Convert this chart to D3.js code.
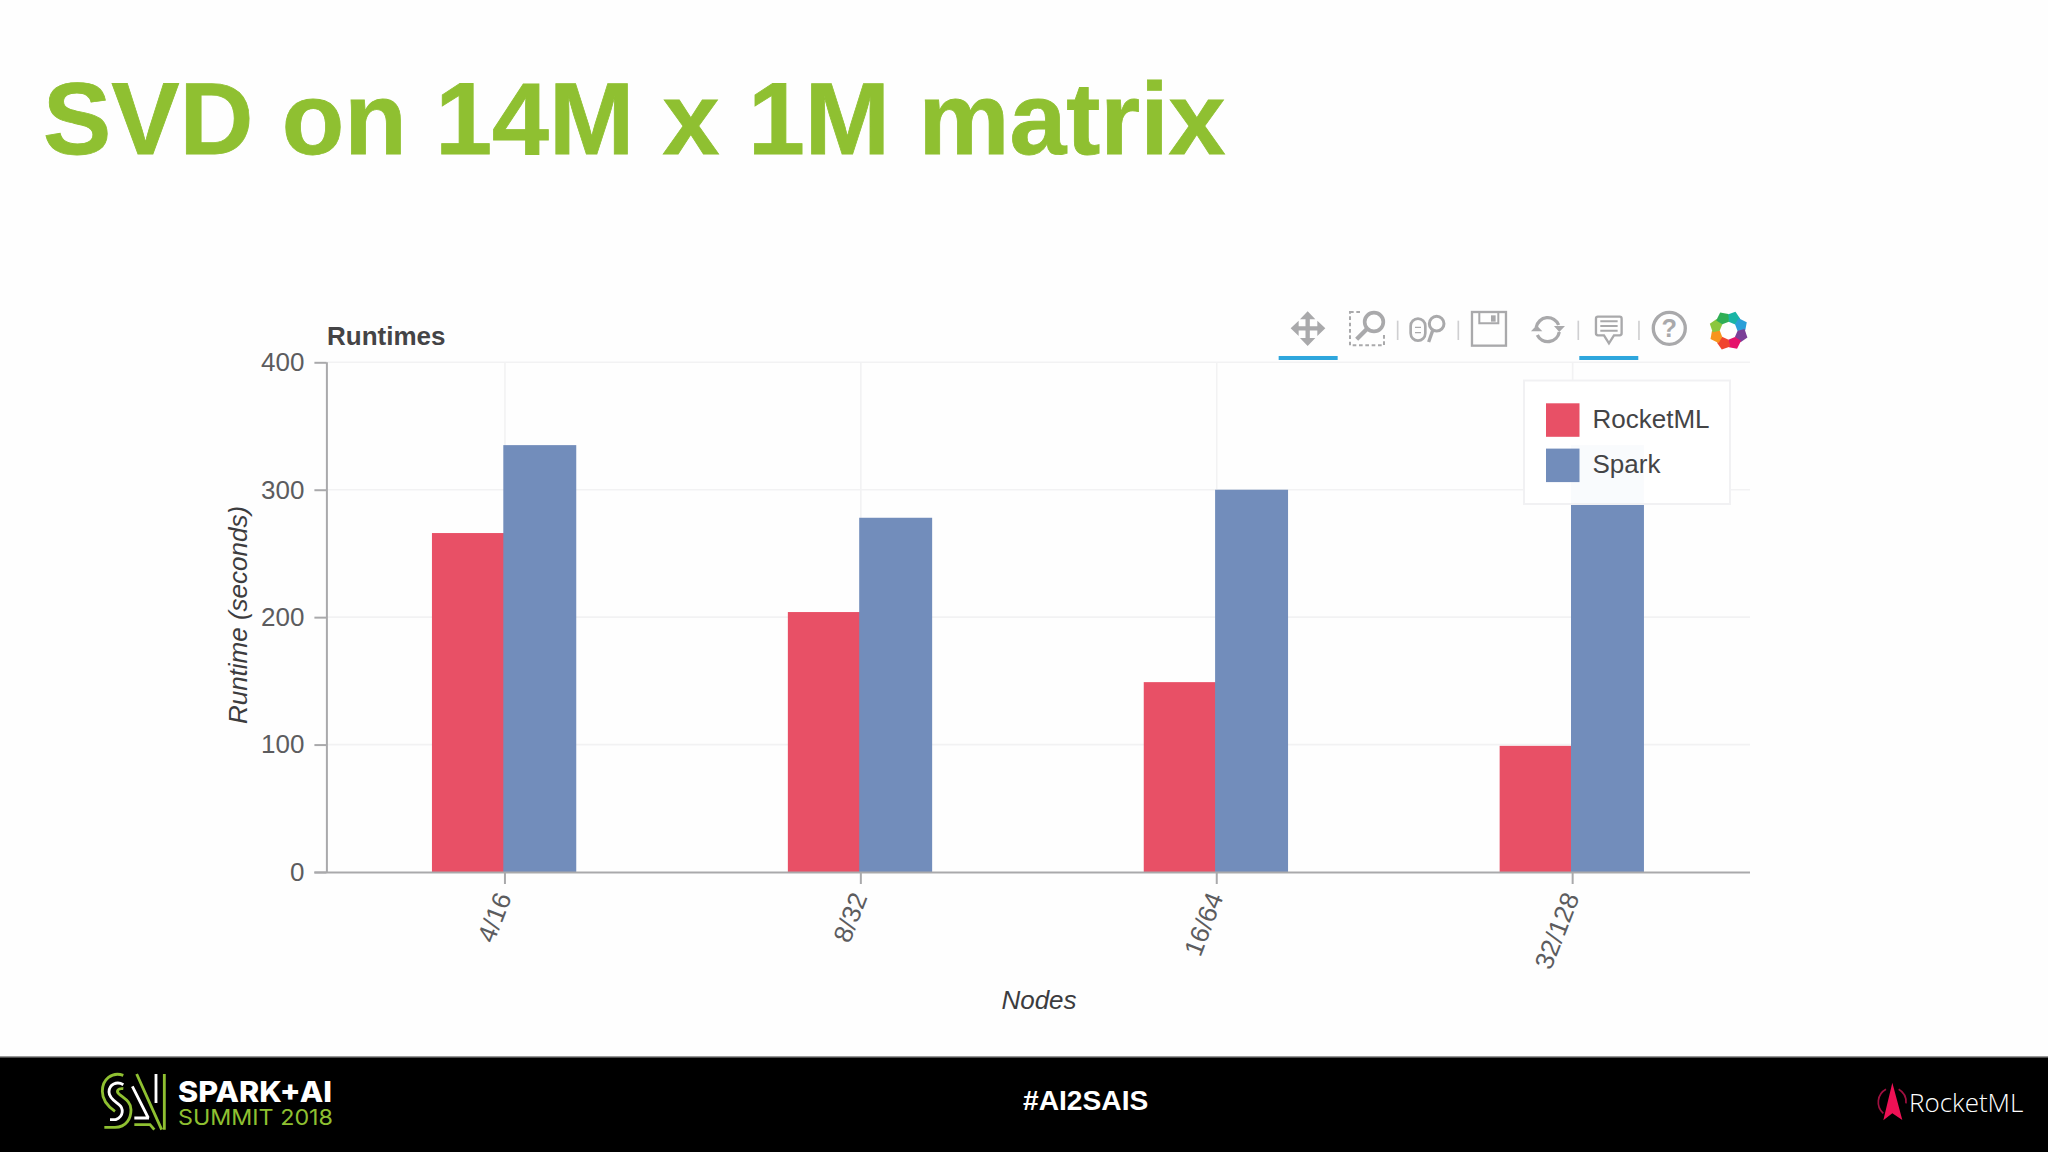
<!DOCTYPE html>
<html><head><meta charset="utf-8">
<script src="https://cdn.jsdelivr.net/npm/d3@7/dist/d3.min.js"></script>
<style>
html,body{margin:0;padding:0;background:#fefefe;overflow:hidden}
svg{display:block}
svg{font-family:"Liberation Sans",Arial,sans-serif}
</style></head><body><svg id="c" width="2048" height="1152"></svg>
<script>
const categories = ["4/16","8/32","16/64","32/128"];
const seriesNames = ["RocketML","Spark"];
const rocketML = [266,204,149,99];
const spark = [335,278,300,335];
const seriesColors = ["#e85066","#728dbb"];
const yTicks = [0,100,200,300,400];

const svg = d3.select("#c");
svg.append("rect").attr("width",2048).attr("height",1152).attr("fill","#fefefe");

svg.append("text").text("SVD on 14M x 1M matrix").attr("x",43).attr("y",154)
  .attr("font-size",102.3).attr("font-weight",700).attr("fill","#8fc031")
  .attr("stroke","#8fc031").attr("stroke-width",0.8);

const L=326.4, R=1750, T=362.3, B=872;
const x = d3.scaleBand().domain(categories).range([L+0.6,R+0.6]);
const y = d3.scaleLinear().domain([0,400]).range([B,T]);
const dodge = d3.scaleBand().domain(seriesNames).range([-73,72.5]);
const cx = c => x(c)+x.bandwidth()/2;

// grid
const grid = svg.append("g").attr("stroke","#f2f2f3").attr("stroke-width",1.6);
grid.selectAll("line.h").data(yTicks.slice(1)).join("line").attr("class","h")
  .attr("x1",L).attr("x2",R).attr("y1",d=>y(d)).attr("y2",d=>y(d));
grid.selectAll("line.v").data(categories).join("line").attr("class","v")
  .attr("x1",cx).attr("x2",cx).attr("y1",T).attr("y2",B);

// bars
seriesNames.forEach((s,si)=>{
  const vals = si===0?rocketML:spark;
  svg.append("g").attr("fill",seriesColors[si]).selectAll("rect").data(categories).join("rect")
    .attr("x",c=>cx(c)+dodge(s)-(si===0?0:1.4)).attr("width",dodge.bandwidth()+(si===0?-0.6:0.2))
    .attr("y",(c,i)=>y(vals[i])).attr("height",(c,i)=>B-y(vals[i]));
});

// axes
const yAxis = svg.append("g").attr("transform",`translate(${L},0)`)
  .call(d3.axisLeft(y).tickValues(yTicks).tickSize(12).tickPadding(10));
const xAxis = svg.append("g").attr("transform",`translate(0,${B})`)
  .call(d3.axisBottom(x).tickSize(12).tickPadding(6));
[yAxis,xAxis].forEach(a=>{
  a.selectAll(".domain").attr("stroke","#a9a9ab").attr("stroke-width",2);
  a.selectAll(".tick line").attr("stroke","#a9a9ab").attr("stroke-width",2);
  a.selectAll("text").attr("fill","#5c5c5e").attr("font-size",26).style("font-family","Liberation Sans");
});
xAxis.select(".domain").attr("d",`M${L-12},0.5H${R}`);
yAxis.select(".domain").attr("d",`M0.5,${T}V${B}`);
xAxis.selectAll("text").attr("text-anchor","end").attr("dy",0)
  .attr("transform","translate(7,25) rotate(-68.75)").attr("y",0).attr("x",0);

// labels
svg.append("text").text("Runtimes").attr("x",327).attr("y",345)
  .attr("font-size",26).attr("font-weight",700).attr("fill","#444446");
svg.append("text").text("Nodes").attr("x",1039).attr("y",1009).attr("text-anchor","middle")
  .attr("font-size",26).attr("font-style","italic").attr("fill","#3c3c3e");
svg.append("text").text("Runtime (seconds)").attr("transform","translate(247,615) rotate(-90)")
  .attr("text-anchor","middle").attr("font-size",26).attr("font-style","italic").attr("fill","#3c3c3e");

// legend
svg.append("rect").attr("x",1524).attr("y",380.5).attr("width",206).attr("height",123.5)
  .attr("fill","#fff").attr("fill-opacity",0.96).attr("stroke","#f1f1f3").attr("stroke-width",2);
const lg = svg.append("g").selectAll("g").data(seriesNames).join("g")
  .attr("transform",(d,i)=>`translate(1546,${403.3+i*45.3})`);
lg.append("rect").attr("width",33.5).attr("height",33.5).attr("fill",(d,i)=>seriesColors[i]);
lg.append("text").text(d=>d).attr("x",46.5).attr("y",24.5).attr("font-size",26).attr("fill","#444446");

// toolbar (drawn in zoom-space)
const tb = svg.append("g").attr("transform","translate(1250,290) scale(0.3333)")
  .attr("fill","none").attr("stroke","#a9a9ab");
tb.selectAll("rect.u").data([86,988]).join("rect").attr("class","u").attr("x",d=>d).attr("y",198)
  .attr("width",177).attr("height",12).attr("fill","#2ea6dd").attr("stroke","none");
tb.selectAll("line.s").data([443,625,985,1167]).join("line").attr("class","s")
  .attr("x1",d=>d).attr("x2",d=>d).attr("y1",92).attr("y2",150).attr("stroke","#cfcfd1").attr("stroke-width",5);
// move
tb.append("path").attr("stroke-width",13).attr("d","M173 78V152M136 115H210");
tb.append("path").attr("fill","#a9a9ab").attr("stroke","none")
  .attr("d","M173 64L196 88H150ZM173 168L196 144H150ZM122 115L146 92V138ZM226 115L202 92V138Z");
// box zoom
tb.append("rect").attr("x",300).attr("y",66).attr("width",102).attr("height",100)
  .attr("stroke-width",6).attr("stroke-dasharray","11 8");
tb.append("rect").attr("x",330).attr("y",55).attr("width",85).attr("height",80).attr("fill","#fefefe").attr("stroke","none");
tb.append("circle").attr("cx",372).attr("cy",96).attr("r",28).attr("stroke-width",11);
tb.append("path").attr("d","M350 118L320 148").attr("stroke-width",13);
// wheel zoom
tb.append("rect").attr("x",482).attr("y",86).attr("width",44).attr("height",66).attr("rx",22).attr("stroke-width",8);
tb.append("path").attr("d","M495 112H513M495 128H513").attr("stroke-width",4);
tb.append("circle").attr("cx",560).attr("cy",101).attr("r",22).attr("stroke-width",9);
tb.append("path").attr("d","M548 122L536 156").attr("stroke-width",10);
// save
tb.append("rect").attr("x",666).attr("y",66).attr("width",102).attr("height",101).attr("stroke-width",7);
tb.append("path").attr("d","M688 66V100H745V66").attr("stroke-width",6);
tb.append("rect").attr("x",723).attr("y",76).attr("width",14).attr("height",19).attr("fill","#a9a9ab").attr("stroke","none");
// reset
tb.append("path").attr("stroke-width",10).attr("d","M859 112A35 35 0 0 1 926 105M928 126A35 35 0 0 1 862 135");
tb.append("path").attr("fill","#a9a9ab").attr("stroke","none").attr("d","M912 108H945L928 126ZM843 124H877L860 106Z");
// hover
tb.append("path").attr("stroke-width",7).attr("d","M1044 80H1109Q1115 80 1115 86V130Q1115 136 1109 136H1092L1077 160L1062 136H1044Q1038 136 1038 130V86Q1038 80 1044 80Z");
tb.append("path").attr("stroke-width",6).attr("d","M1051 94H1103M1051 108H1103M1051 122H1103");
// help
tb.append("circle").attr("cx",1258).attr("cy",115).attr("r",48).attr("stroke-width",10);
tb.append("text").text("?").attr("x",1258).attr("y",141).attr("text-anchor","middle").attr("font-size",76)
  .attr("font-weight",700).attr("fill","#a9a9ab").attr("stroke","none");
// colour wheel: pinwheel petals
const wheel = ["#19b5a5","#2a9fd8","#7b3f98","#e5126b","#f0452e","#f7941e","#8cc63f","#2fae55"];
const pt = (r,deg)=>[r*Math.sin(deg*Math.PI/180),-r*Math.cos(deg*Math.PI/180)];
const wg = tb.append("g").attr("transform","translate(1436,122)").attr("stroke","none");
wg.selectAll("path").data(wheel).join("path").attr("fill",d=>d)
  .attr("d",(d,i)=>{const a=i*45;return d3.line()([pt(27,a),pt(48,a-6),pt(60,a+20),pt(50,a+44),pt(27,a+47)])+"Z";});

// footer
svg.append("rect").attr("y",1057).attr("width",2048).attr("height",95).attr("fill","#000");
svg.append("rect").attr("y",1056).attr("width",2048).attr("height",1.5).attr("fill","#999");
svg.append("text").text("#AI2SAIS").attr("x",1023).attr("y",1110).attr("font-size",28.2)
  .attr("font-weight",700).attr("fill","#fff");

// summit logo (zoom-space)
const sl = svg.append("g").attr("transform","translate(95,1068) scale(0.3333)").attr("fill","none").attr("stroke-width",8.5);
sl.append("path").attr("stroke","#8fc031").attr("d","M85 22C50 10 22 35 22 70C22 100 45 120 60 130");
sl.append("path").attr("stroke","#fff").attr("d","M85 50C65 38 42 50 42 72C42 90 60 100 72 110C85 120 88 145 62 155H45");
sl.append("path").attr("stroke","#8fc031").attr("d","M28 178H60C95 178 108 150 108 125C108 100 85 90 72 78C62 68 70 60 85 62");
sl.append("path").attr("stroke","#fff").attr("d","M112 55L160 150M118 150H162M183 18V105");
sl.append("path").attr("stroke","#8fc031").attr("d","M125 18L200 185M208 18V185M118 170H165L178 185");
svg.append("text").text("SPARK+AI").attr("x",178).attr("y",1101.5).attr("font-size",29).attr("font-weight",800)
  .style("font-family","Inter").attr("fill","#fff").attr("textLength",154).attr("lengthAdjust","spacingAndGlyphs");
svg.append("text").text("SUMMIT 2018").attr("x",178).attr("y",1125).attr("font-size",21).style("font-family","Inter")
  .attr("fill","#8fc031").attr("textLength",155).attr("lengthAdjust","spacingAndGlyphs");

// RocketML logo
const rl = svg.append("g").attr("transform","translate(1850,1060) scale(0.3333)");
rl.append("path").attr("fill","none").attr("stroke","#a01040").attr("stroke-width",5)
  .attr("d","M108 88A44 44 0 0 0 100 160M146 88A44 44 0 0 1 168 130");
rl.append("path").attr("fill","#ee1155").attr("d","M127 68L157 180L127 160L100 181Z");
svg.append("text").text("RocketML").attr("x",1909).attr("y",1112).attr("font-size",26)
  .style("font-family","Open Sans").attr("font-weight",300).attr("fill","#fff");
</script></body></html>
